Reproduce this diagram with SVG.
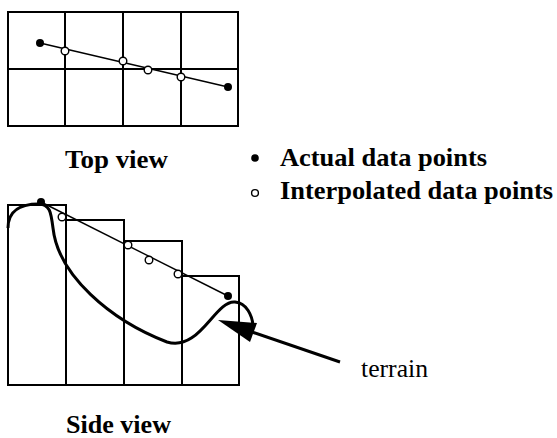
<svg xmlns="http://www.w3.org/2000/svg" width="557" height="438" viewBox="0 0 557 438">
<style>
.grid{fill:none;stroke:#000;stroke-width:2}
.ln{fill:none;stroke:#000;stroke-width:1.4}
.act{fill:#000}
.itp{fill:#fff;stroke:#000;stroke-width:1.4}
.terr{fill:none;stroke:#000;stroke-width:3}
.lbl{font-family:"Liberation Serif",serif;font-weight:bold;font-size:25px;fill:#000}
.reg{font-family:"Liberation Serif",serif;font-size:25px;fill:#000}
</style>
<g id="top-view">
<rect class="grid" x="8" y="12" width="230" height="114"/>
<line class="grid" x1="65" y1="12" x2="65" y2="126"/>
<line class="grid" x1="123" y1="12" x2="123" y2="126"/>
<line class="grid" x1="181" y1="12" x2="181" y2="126"/>
<line class="grid" x1="8" y1="69" x2="238" y2="69"/>
<line class="ln" x1="40" y1="43" x2="228" y2="87"/>
<circle class="act" cx="40" cy="43" r="4"/>
<circle class="act" cx="228" cy="87" r="4"/>
<circle class="itp" cx="65" cy="51" r="3.8"/>
<circle class="itp" cx="123" cy="61" r="3.8"/>
<circle class="itp" cx="148" cy="70" r="3.8"/>
<circle class="itp" cx="181" cy="77" r="3.8"/>
<text class="lbl" x="65" y="168" textLength="103" lengthAdjust="spacingAndGlyphs">Top view</text>
</g>
<g id="legend">
<circle class="act" cx="255" cy="158" r="3.8"/>
<text class="lbl" x="280" y="166" textLength="207" lengthAdjust="spacingAndGlyphs">Actual data points</text>
<circle class="itp" cx="255" cy="193" r="3.4"/>
<text class="lbl" x="280" y="199" textLength="273" lengthAdjust="spacingAndGlyphs">Interpolated data points</text>
</g>
<g id="side-view">
<rect class="grid" x="8" y="205" width="58" height="180"/>
<rect class="grid" x="66" y="220" width="58" height="165"/>
<rect class="grid" x="124" y="241" width="58" height="144"/>
<rect class="grid" x="182" y="276" width="57" height="109"/>
<line class="ln" x1="41" y1="202" x2="228" y2="296"/>
<circle class="act" cx="41" cy="202" r="4"/>
<circle class="act" cx="228" cy="296" r="4"/>
<circle class="itp" cx="62" cy="217" r="3.8"/>
<circle class="itp" cx="128" cy="245" r="3.8"/>
<circle class="itp" cx="149" cy="260" r="3.8"/>
<circle class="itp" cx="178" cy="274" r="3.8"/>
<path class="terr" d="M8,228 C8,210 22,204 38,204 C50,204 51,212 53,228 C58,275 110,320 167,342 C200,352 215,300 235,302 C247,303 252,316 253,325"/>
<text class="lbl" x="66" y="433" textLength="105" lengthAdjust="spacingAndGlyphs">Side view</text>
</g>
<g id="connectors">
<line x1="252" y1="332" x2="340" y2="362" stroke="#000" stroke-width="3"/>
<polygon points="218,320 257,323 250,342" fill="#000"/>
</g>
<g id="terrain-label">
<text class="reg" x="361" y="377" textLength="67" lengthAdjust="spacingAndGlyphs">terrain</text>
</g>
</svg>
